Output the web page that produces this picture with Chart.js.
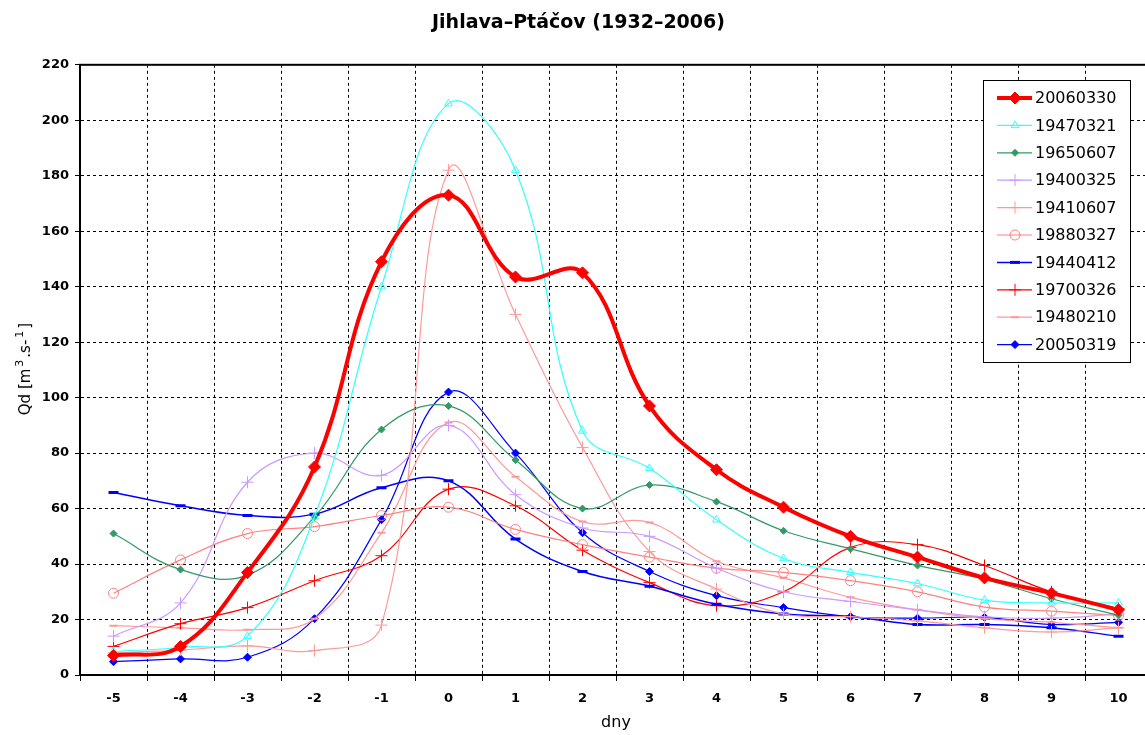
<!DOCTYPE html>
<html>
<head>
<meta charset="utf-8">
<script src="https://cdn.jsdelivr.net/npm/chart.js@4.4.1/dist/chart.umd.min.js"></script>
<style>
  html, body { margin: 0; padding: 0; background: #fff; overflow: hidden; }
  #wrap { width: 1160px; height: 735px; }
</style>
</head>
<body>
<div id="wrap"><canvas id="c" width="1160" height="735"></canvas></div>
<script>
// dny kolem kulminace
const days = ['-5', '-4', '-3', '-2', '-1', '0', '1', '2', '3', '4', '5', '6', '7', '8', '9', '10'];

// Qd [m3/s]
const q20060330 = [7, 10.3, 37, 75, 149, 173, 143.5, 145, 97, 74, 60.5, 50, 42.5, 35, 29.5, 23.5];
const q19470321 = [8.5, 10, 14, 57, 140, 206, 182, 88, 74.5, 56, 42, 37, 33, 27, 26, 26];
const q19650607 = [51, 38, 36, 57, 88.5, 97, 77.5, 60, 68.5, 62.5, 52, 45.5, 39.5, 34.5, 27.5, 21.5];
const q19400325 = [14, 26, 69.5, 80, 72, 90, 65, 53, 50, 38.5, 30, 26.5, 23.5, 21, 20.5, 22];
const q19410607 = [8, 9, 10.5, 8.8, 18, 182, 130, 82, 44.5, 31, 22, 21, 19.5, 17, 15.5, 17];
const q19880327 = [29.5, 41.5, 51, 53.5, 57.5, 60.5, 52.5, 47, 42.5, 38.5, 37, 34, 30, 24.5, 23, 21.5];
const q19440412 = [65.8, 61, 57.5, 58, 67.5, 70, 49, 37.3, 32, 25.5, 22, 21, 18.2, 18.2, 17, 14];
const q19700326 = [10.3, 18.5, 24.3, 34, 43, 67, 61, 45, 33.3, 25, 30, 46, 47, 39.5, 30, 24];
const q19480210 = [17.8, 17, 16.3, 20.3, 51.3, 91, 71.5, 55.3, 55, 41, 35, 28, 23.5, 20.3, 19, 17];
const q20050319 = [4.8, 5.8, 6.4, 20.3, 56, 102, 80, 51.3, 37.3, 28.6, 24.3, 21, 20.5, 20.8, 18.2, 19];

const yTicks = [0, 20, 40, 60, 80, 100, 120, 140, 160, 180, 200, 220];

const FONT = '"DejaVu Sans", Verdana, sans-serif';

function serie(label, data, color, style, radius, lineW, hollow, pointW) {
  return {
    label: label,
    data: data,
    borderColor: color,
    backgroundColor: hollow ? '#ffffff' : color,
    borderWidth: lineW,
    pointStyle: style,
    pointRadius: radius,
    pointHoverRadius: radius,
    pointBorderWidth: pointW || 1,
    pointBorderColor: color,
    pointBackgroundColor: hollow ? 'rgba(255,255,255,0)' : color,
    tension: 0.4,
    fill: false
  };
}

const datasets = [
  serie('20060330', q20060330, '#ff0000', 'rectRot', 6, 4, false, 1),
  serie('19470321', q19470321, '#33ffff', 'triangle', 4.5, 1.2, true, 1),
  serie('19650607', q19650607, '#339966', 'rectRot', 3.5, 1.2, false, 1),
  serie('19400325', q19400325, '#cc99ff', 'cross', 6, 1.2, false, 1),
  serie('19410607', q19410607, '#ff9999', 'cross', 6, 1.2, false, 1),
  serie('19880327', q19880327, '#ff8080', 'circle', 5, 1.2, true, 1),
  serie('19440412', q19440412, '#0000ff', 'line', 5, 1.5, false, 3),
  serie('19700326', q19700326, '#ff0000', 'cross', 6, 1.2, false, 1),
  serie('19480210', q19480210, '#ff9999', 'line', 4, 1.2, false, 2),
  serie('20050319', q20050319, '#0000ff', 'rectRot', 4, 1.2, false, 1)
];

// rámeček grafu
const boxPlugin = {
  id: 'box',
  beforeDatasetsDraw(chart) {
    const a = chart.chartArea, ctx = chart.ctx;
    ctx.save();
    ctx.strokeStyle = '#000';
    ctx.lineWidth = 2;
    ctx.strokeRect(a.left, a.top, a.right - a.left, a.bottom - a.top);
    ctx.restore();
  }
};

// popisek osy y s horními indexy
const yTitlePlugin = {
  id: 'yTitle',
  afterDraw(chart) {
    const ctx = chart.ctx;
    const parts = [['Qd [m', 15, 0], ['3', 11, -7], ['.s-', 15, 0], ['1', 11, -7], [']', 15, 0]];
    ctx.save();
    ctx.translate(30, 369);
    ctx.rotate(-Math.PI / 2);
    ctx.fillStyle = '#000';
    ctx.textBaseline = 'alphabetic';
    let total = 0;
    parts.forEach(p => { ctx.font = p[1] + 'px ' + FONT; total += ctx.measureText(p[0]).width + (p[2] ? 4 : 0); });
    let x = -total / 2;
    parts.forEach(p => {
      ctx.font = p[1] + 'px ' + FONT;
      if (p[2]) x += 2;
      ctx.fillText(p[0], x, 0 + p[2]);
      x += ctx.measureText(p[0]).width + (p[2] ? 2 : 0);
    });
    ctx.restore();
  }
};

// legenda uvnitř grafu
const legendPlugin = {
  id: 'boxLegend',
  afterDraw(chart) {
    const ctx = chart.ctx;
    const x0 = 983, y0 = 80, w = 147, h = 282;
    ctx.save();
    ctx.fillStyle = '#fff';
    ctx.fillRect(x0, y0, w, h);
    ctx.strokeStyle = '#000';
    ctx.lineWidth = 1;
    ctx.strokeRect(x0 + 0.5, y0 + 0.5, w, h);
    ctx.font = '16px ' + FONT;
    ctx.textBaseline = 'middle';
    chart.data.datasets.forEach((ds, i) => {
      const y = y0 + 18 + i * 27.4;
      ctx.strokeStyle = ds.borderColor;
      ctx.lineWidth = ds.borderWidth;
      ctx.beginPath();
      ctx.moveTo(x0 + 14, y);
      ctx.lineTo(x0 + 49, y);
      ctx.stroke();
      ctx.fillStyle = ds.pointBackgroundColor;
      ctx.strokeStyle = ds.pointBorderColor;
      ctx.lineWidth = ds.pointBorderWidth;
      Chart.helpers.drawPoint(ctx, {
        pointStyle: ds.pointStyle, radius: ds.pointRadius, rotation: 0, borderWidth: ds.pointBorderWidth
      }, x0 + 32, y);
      ctx.fillStyle = '#000';
      ctx.fillText(ds.label, x0 + 52, y + 1);
    });
    ctx.restore();
  }
};

new Chart(document.getElementById('c'), {
  type: 'line',
  data: { labels: days, datasets: datasets },
  options: {
    responsive: false,
    animation: false,
    layout: { padding: { left: 0, right: 3, top: 0, bottom: 0 } },
    plugins: {
      legend: { display: false },
      tooltip: { enabled: false },
      title: {
        display: true,
        text: 'Jihlava–Ptáčov (1932–2006)',
        color: '#000',
        font: { family: FONT, size: 19, weight: 'bold' },
        padding: { top: 12, bottom: 30 }
      }
    },
    scales: {
      x: {
        offset: true,
        grid: { offset: true, color: '#000', lineWidth: 1, tickLength: 6 },
        border: { color: '#000', width: 2, dash: [3, 3] },
        ticks: { color: '#000', font: { family: FONT, size: 13, weight: 'bold' }, padding: 10, maxRotation: 0 },
        title: { display: true, text: 'dny', color: '#000', font: { family: FONT, size: 16 }, padding: { top: 2, bottom: 3 } },
        afterFit(scale) { scale.height = 60; }
      },
      y: {
        min: yTicks[0],
        max: yTicks[yTicks.length - 1],
        afterBuildTicks(scale) { scale.ticks = yTicks.map(v => ({ value: v })); },
        grid: { color: '#000', lineWidth: 1, tickLength: 5 },
        border: { color: '#000', width: 2, dash: [3, 3] },
        ticks: { color: '#000', font: { family: FONT, size: 13, weight: 'bold' }, padding: 6 },
        title: { display: false },
        afterFit(scale) { scale.width = 80; }
      }
    }
  },
  plugins: [boxPlugin, yTitlePlugin, legendPlugin]
});
</script>
</body>
</html>
